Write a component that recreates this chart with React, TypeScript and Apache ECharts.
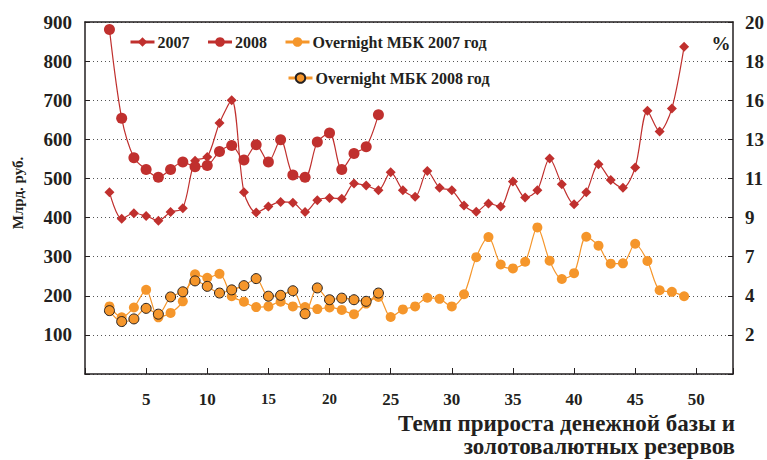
import React, { useEffect, useRef } from "react";
import * as echarts from "echarts";

// Week numbers start at 2 for every series
const FIRST_WEEK = 2;

// Money base growth, bn rub (left axis)
const base2007 = [465, 397, 411, 404, 392, 414, 424, 545, 555, 642, 700, 465, 413, 428, 440, 438, 414, 444, 450, 448, 487, 482, 470, 516, 470, 453, 519, 476, 470, 431, 415, 436, 428, 492, 451, 470, 551, 485, 434, 465, 536, 496, 476, 528, 673, 620, 679, 837];
const base2008 = [881, 654, 553, 523, 503, 523, 542, 530, 533, 569, 584, 547, 586, 542, 599, 509, 503, 593, 616, 523, 564, 581, 663];

// Overnight interbank rate, % (right axis)
const overnight2007 = [3.84, 3.22, 3.78, 4.78, 3.22, 3.47, 4.13, 5.67, 5.47, 5.69, 4.42, 4.11, 3.8, 3.84, 4.11, 3.84, 3.8, 3.69, 3.78, 3.64, 3.4, 4.0, 4.38, 3.24, 3.67, 3.84, 4.33, 4.27, 3.84, 4.53, 6.64, 7.78, 6.22, 6.0, 6.38, 8.33, 6.44, 5.4, 5.73, 7.8, 7.29, 6.27, 6.29, 7.4, 6.42, 4.76, 4.67, 4.42];
const overnight2008 = [3.6, 2.98, 3.13, 3.73, 3.4, 4.38, 4.67, 5.29, 4.98, 4.6, 4.78, 5.02, 5.42, 4.42, 4.47, 4.73, 3.42, 4.89, 4.22, 4.31, 4.22, 4.13, 4.6];

const seriesNames = ["2007", "2008", "Overnight МБК 2007 год", "Overnight МБК 2008 год"];
const smallXLabels = [15, 20];

const RED = "#C0302E";
const ORANGE = "#F5962B";
const INK = "#231F20";
const SERIF = "'Liberation Serif', 'Times New Roman', serif";

function pairs(vals: number[]) {
  return vals.map((v, i) => [FIRST_WEEK + i, v]);
}

export default function App() {
  const ref = useRef<HTMLDivElement>(null);

  useEffect(() => {
    document.body.style.margin = "0";
    const chart = echarts.init(ref.current!, null, { renderer: "svg" });
    const labelFont = { fontFamily: SERIF, fontWeight: "bold" as const, color: INK };

    chart.setOption({
      animation: false,
      backgroundColor: "#ffffff",
      grid: { left: 85, right: 33, top: 22, bottom: 86 },
      legend: [
        {
          data: seriesNames.slice(0, 3),
          left: 129,
          top: 34,
          padding: 0,
          itemWidth: 24,
          itemHeight: 12,
          itemGap: 17,
          textStyle: { ...labelFont, fontSize: 16, padding: [0, 0, 0, -2] },
          lineStyle: { width: 3 },
        },
        {
          data: seriesNames.slice(3),
          left: 287,
          top: 70,
          padding: 0,
          itemWidth: 24,
          itemHeight: 12,
          textStyle: { ...labelFont, fontSize: 16, padding: [0, 0, 0, -2] },
          lineStyle: { width: 3 },
        },
      ],
      xAxis: [
        {
          type: "value",
          min: 0,
          max: 53,
          interval: 5,
          position: "bottom",
          axisLine: { onZero: false, lineStyle: { color: INK, width: 1.5 } },
          axisTick: { inside: true, length: 6, lineStyle: { color: INK } },
          splitLine: { show: false },
          axisLabel: {
            ...labelFont,
            fontSize: 17,
            margin: 17,
            formatter: (v: number) => {
              if (v <= 0 || v % 5 !== 0) return "";
              return smallXLabels.includes(v) ? `{s|${v}}` : String(v);
            },
            rich: { s: { ...labelFont, fontSize: 15, padding: [0, 0, 3, 0] } },
          },
        },
        {
          type: "value",
          min: 0,
          max: 53,
          position: "top",
          axisLine: { onZero: false, lineStyle: { color: INK, width: 1.5 } },
          axisTick: { show: false },
          axisLabel: { show: false },
          splitLine: { show: false },
        },
      ],
      yAxis: [
        {
          type: "value",
          min: 0,
          max: 900,
          interval: 100,
          position: "left",
          axisLine: { show: true, onZero: false, lineStyle: { color: INK, width: 1.5 } },
          axisTick: { show: true, inside: true, length: 5, lineStyle: { color: INK } },
          axisLabel: { ...labelFont, fontSize: 19, margin: 13, formatter: (v: number) => (v === 0 ? "" : String(v)) },
          splitLine: { show: true, lineStyle: { type: [1, 3], color: "#555", width: 1 } },
        },
        {
          type: "value",
          min: 0,
          max: 20,
          interval: 20 / 9,
          position: "right",
          axisLine: { show: true, onZero: false, lineStyle: { color: INK, width: 1.5 } },
          axisTick: { show: true, inside: true, length: 5, lineStyle: { color: INK } },
          axisLabel: {
            ...labelFont,
            fontSize: 19,
            margin: 12,
            formatter: (v: number) => (v < 0.01 ? "" : String(Math.round(v))),
          },
          splitLine: { show: false },
        },
      ],
      series: [
        {
          name: seriesNames[2],
          type: "line",
          yAxisIndex: 1,
          data: pairs(overnight2007),
          symbol: "circle",
          symbolSize: 10,
          smooth: 0.3,
          lineStyle: { color: ORANGE, width: 1.2 },
          itemStyle: { color: ORANGE },
          z: 2,
        },
        {
          name: seriesNames[3],
          type: "line",
          yAxisIndex: 1,
          data: pairs(overnight2008),
          symbol: "circle",
          symbolSize: 10,
          smooth: 0.3,
          lineStyle: { color: ORANGE, width: 1.2 },
          itemStyle: { color: ORANGE, borderColor: INK, borderWidth: 1 },
          z: 3,
        },
        {
          name: seriesNames[0],
          type: "line",
          data: pairs(base2007),
          symbol: "diamond",
          symbolSize: 10,
          smooth: 0.3,
          lineStyle: { color: RED, width: 1.2 },
          itemStyle: { color: RED },
          z: 4,
        },
        {
          name: seriesNames[1],
          type: "line",
          data: pairs(base2008),
          symbol: "circle",
          symbolSize: 11,
          smooth: 0.3,
          lineStyle: { color: RED, width: 1.2 },
          itemStyle: { color: RED },
          z: 5,
        },
      ],
      graphic: [
        {
          type: "text",
          x: 721,
          y: 43,
          style: { text: "%", font: `bold 19px ${SERIF}`, fill: INK, textAlign: "center", textVerticalAlign: "middle" },
        },
        {
          type: "text",
          x: 18,
          y: 193,
          rotation: Math.PI / 2,
          style: { text: "Млрд. руб.", font: `bold 15px ${SERIF}`, fill: INK, textAlign: "center", textVerticalAlign: "middle" },
        },
        {
          type: "text",
          x: 735,
          y: 423,
          style: { text: "Темп прироста денежной базы и", font: `bold 23px ${SERIF}`, fill: INK, textAlign: "right", textVerticalAlign: "middle" },
        },
        {
          type: "text",
          x: 735,
          y: 446,
          style: { text: "золотовалютных резервов", font: `bold 23px ${SERIF}`, fill: INK, textAlign: "right", textVerticalAlign: "middle" },
        },
      ],
    });

    return () => chart.dispose();
  }, []);

  return <div ref={ref} style={{ width: 767, height: 460 }} />;
}
